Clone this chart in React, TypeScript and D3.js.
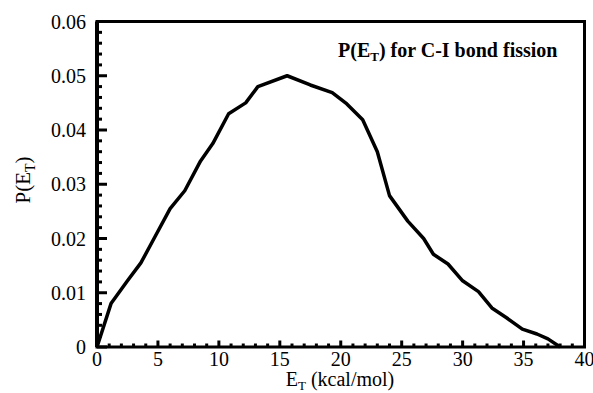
import React from "react";
import * as d3 from "d3";

const energies = [0, 1.15, 2.5, 3.6, 4.8, 6.0, 7.2, 8.5, 9.5, 10.8, 12.2, 13.2, 15.6, 17.5, 19.3, 20.5, 21.8, 23.0, 24.0, 25.5, 26.8, 27.6, 28.8, 30.0, 31.3, 32.4, 33.6, 34.9, 36.1, 37.0, 38.0];
const probs = [0, 0.008, 0.0122, 0.0155, 0.0205, 0.0255, 0.0288, 0.0343, 0.0375, 0.043, 0.045, 0.048, 0.050, 0.0483, 0.0469, 0.0448, 0.0419, 0.036, 0.0279, 0.0232, 0.020, 0.0171, 0.0153, 0.0122, 0.0102, 0.0072, 0.0054, 0.0033, 0.0024, 0.0015, 0.0];
const xTicks = [0, 5, 10, 15, 20, 25, 30, 35, 40];
const yTicks = [0, 0.01, 0.02, 0.03, 0.04, 0.05, 0.06];

const W = 593, H = 393;
const L = 97, R = 584.5, T = 21.5, B = 347;

export default function App() {
  const x = d3.scaleLinear().domain([0, 40]).range([L, R]);
  const y = d3.scaleLinear().domain([0, 0.06]).range([B, T]);
  const line = d3.line<number>().x((_, i) => x(energies[i])).y((d) => y(d));
  const xMinor = d3.range(0, 41, 1);
  const yMinor = d3.range(0, 31, 1).map((i) => i * 0.002);
  const font = "'Liberation Serif', 'Times New Roman', serif";
  return (
    <svg width={W} height={H} style={{ position: "absolute", left: 0, top: 0, background: "#fff" }}>
      <rect x={0} y={0} width={W} height={H} fill="#fff" />
      {xMinor.map((v, i) => (
        <line key={"xm" + i} x1={x(v)} x2={x(v)} y1={B} y2={B - (v % 5 === 0 ? 6.5 : 3.5)} stroke="#000" strokeWidth={3} />
      ))}
      {yMinor.map((v, i) => (
        <line key={"ym" + i} x1={L} x2={L + (i % 5 === 0 ? 10 : 5)} y1={y(v)} y2={y(v)} stroke="#000" strokeWidth={3} />
      ))}
      <rect x={L} y={T} width={R - L} height={B - T} fill="none" stroke="#000" strokeWidth={3} />
      <line x1={L} x2={L} y1={T} y2={B} stroke="#000" strokeWidth={4} />
      <path d={line(probs) || ""} fill="none" stroke="#000" strokeWidth={3.5} strokeLinejoin="round" />
      {xTicks.map((v) => (
        <text key={"xt" + v} x={x(v)} y={366} textAnchor="middle" fontFamily={font} fontSize={20}>{v}</text>
      ))}
      {yTicks.map((v) => (
        <text key={"yt" + v} x={86} y={y(v) + 7} textAnchor="end" fontFamily={font} fontSize={20}>{v === 0 ? "0" : v.toFixed(2)}</text>
      ))}
      <text x={340} y={386} textAnchor="middle" fontFamily={font} fontSize={20}>
        E<tspan fontSize={13} dy={4}>T</tspan><tspan dy={-4}> (kcal/mol)</tspan>
      </text>
      <text transform="translate(30,180) rotate(-90)" textAnchor="middle" fontFamily={font} fontSize={21}>
        P(E<tspan fontSize={14} dy={5}>T</tspan><tspan dy={-5}>)</tspan>
      </text>
      <text x={338} y={57} fontFamily={font} fontSize={20} fontWeight="bold">
        P(E<tspan fontSize={13} dy={4}>T</tspan><tspan dy={-4}>) for C-I bond fission</tspan>
      </text>
    </svg>
  );
}
